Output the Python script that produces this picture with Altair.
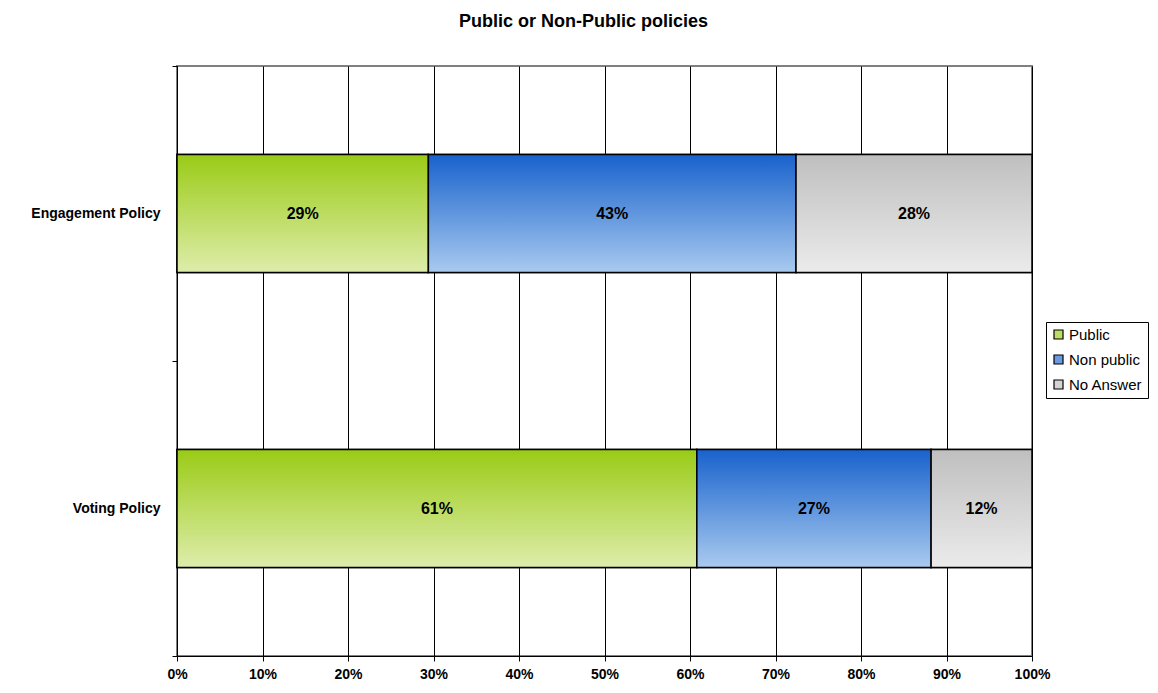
import altair as alt
import pandas as pd

policies = ["Engagement Policy", "Voting Policy"]
series = ["Public", "Non public", "No Answer"]
engagement_values = [29.4, 43.0, 27.6]
voting_values = [60.8, 27.4, 11.8]
x_ticks = [0, 10, 20, 30, 40, 50, 60, 70, 80, 90, 100]

legend_colors = ["#bcdc64", "#6c9ae0", "#d4d4d4"]
grad_top = ["#9acb16", "#1862cc", "#bfbfbf"]
grad_bottom = ["#deedab", "#a9caef", "#ebebeb"]

FONT = "Liberation Sans"

rows = []
for pol, vals in zip(policies, [engagement_values, voting_values]):
    start = 0.0
    for s, v in zip(series, vals):
        rows.append({
            "policy": pol, "series": s, "value": v,
            "start": start, "end": start + v, "mid": start + v / 2,
            "label": f"{round(v)}%",
        })
        start += v
df = pd.DataFrame(rows)

bar_h = alt.RelativeBandSize(band=0.4)

x_enc = alt.X(
    "start:Q",
    scale=alt.Scale(domain=[0, 100], nice=False, zero=True),
    axis=alt.Axis(
        values=x_ticks, labelExpr="datum.value + '%'", title=None,
        grid=True, gridColor="black", gridOpacity=1, gridWidth=1,
        domainColor="black", domainWidth=1, tickColor="black", tickSize=5,
        labelFont=FONT, labelFontSize=14, labelFontWeight="bold",
        labelColor="black", labelPadding=6, labelFlush=False,
    ),
)
y_enc = alt.Y(
    "policy:N", sort=policies,
    scale=alt.Scale(paddingInner=0, paddingOuter=0),
    axis=alt.Axis(
        title=None, tickBand="extent", grid=False,
        domainColor="black", domainWidth=1, tickColor="black", tickSize=5,
        labelFont=FONT, labelFontSize=14, labelFontWeight="bold",
        labelColor="black", labelPadding=12,
    ),
)

base = alt.Chart(df).mark_bar(height=bar_h, stroke="black", strokeWidth=1.5).encode(
    x=x_enc, x2="end:Q", y=y_enc,
    color=alt.Color(
        "series:N", sort=series,
        scale=alt.Scale(domain=series, range=legend_colors),
        legend=alt.Legend(
            title=None, orient="none", legendX=869, legendY=256,
            symbolType="square", symbolSize=81, symbolStrokeColor="black",
            symbolStrokeWidth=1.2, symbolOpacity=1,
            labelFont=FONT, labelFontSize=15, labelColor="black",
            rowPadding=9, padding=5, strokeColor="black", fillColor="white",
            labelOffset=3,
        ),
    ),
)

layers = [base]
for s, top, bot in zip(series, grad_top, grad_bottom):
    grad = alt.LinearGradient(
        gradient="linear",
        stops=[alt.GradientStop(color=top, offset=0), alt.GradientStop(color=bot, offset=1)],
        x1=0, x2=0, y1=0, y2=1,
    )
    layers.append(
        alt.Chart(df).transform_filter(alt.datum.series == s)
        .mark_bar(height=bar_h, fill=grad, stroke="black", strokeWidth=1.5)
        .encode(x="start:Q", x2="end:Q", y=alt.Y("policy:N", sort=policies))
    )

text = alt.Chart(df).mark_text(
    font=FONT, fontSize=16, fontWeight="bold", color="black"
).encode(x="mid:Q", y=alt.Y("policy:N", sort=policies), text="label:N")
layers.append(text)

chart = alt.layer(*layers).properties(
    width=855, height=590,
    title=alt.TitleParams(
        "Public or Non-Public policies", font=FONT, fontSize=18, fontWeight="bold",
        color="black", anchor="middle", dx=-21, offset=28,
    ),
    autosize=alt.AutoSizeParams(type="none"),
    padding={"left": 169, "top": 58, "right": 118, "bottom": 29},
).configure_view(stroke="#808080", strokeWidth=2)

chart.save("out.html", embed_options={"renderer": "svg", "actions": False})
